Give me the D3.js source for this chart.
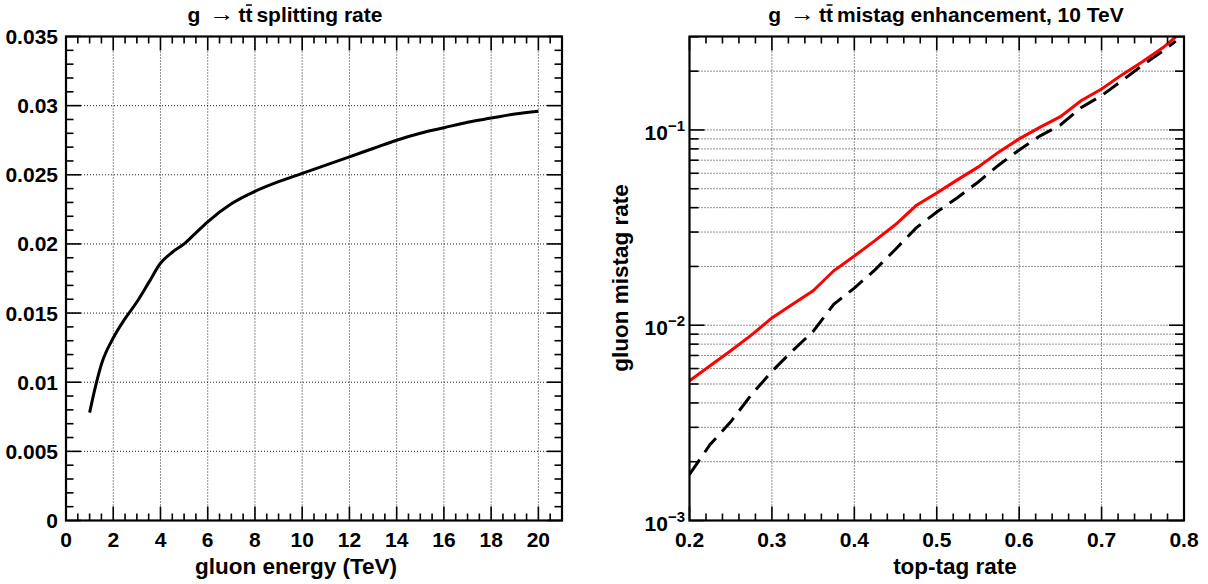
<!DOCTYPE html>
<html><head><meta charset="utf-8">
<script src="https://cdn.jsdelivr.net/npm/d3@7"></script>
<style>
body{margin:0;background:#fff}
svg{display:block}
text{font-family:"Liberation Sans",Arial,Helvetica,sans-serif;font-weight:bold;fill:#000}
</style>
</head><body>
<svg id="c" width="1208" height="584"></svg>
<script>
// ---------------- data ----------------
// left panel: g -> t tbar splitting rate vs gluon energy (TeV)
const gluonEnergy = [1, 1.25, 1.5, 2, 2.5, 3, 3.5, 4, 4.5, 5, 5.5, 6, 7, 8, 9, 10, 11, 12, 13, 14, 15, 16, 17, 18, 19, 20];
const splittingRate = [0.0078, 0.0097, 0.0113, 0.0132, 0.0146, 0.0158, 0.0172, 0.0186, 0.0194, 0.0200, 0.0208, 0.0216, 0.0229, 0.0238, 0.0245, 0.0251, 0.0257, 0.0263, 0.0269, 0.0275, 0.0280, 0.0284, 0.0288, 0.0291, 0.0294, 0.0296];

// right panel: gluon mistag rate vs top-tag rate
const topTagRate = [0.200, 0.225, 0.250, 0.275, 0.300, 0.325, 0.350, 0.375, 0.400, 0.425, 0.450, 0.475, 0.500, 0.525, 0.550, 0.575, 0.600, 0.625, 0.650, 0.675, 0.700, 0.725, 0.750, 0.775, 0.790];
const mistagWithSplitting = [0.0052, 0.0062, 0.0074, 0.0089, 0.0109, 0.0128, 0.0150, 0.0190, 0.0226, 0.0271, 0.0328, 0.0410, 0.0475, 0.0555, 0.0645, 0.0770, 0.0900, 0.1030, 0.1170, 0.1410, 0.1620, 0.1920, 0.2240, 0.2650, 0.3000];
const mistagBaseline = [0.00172, 0.00245, 0.00320, 0.00440, 0.00580, 0.00740, 0.00930, 0.0128, 0.0155, 0.0192, 0.0245, 0.0315, 0.0380, 0.0450, 0.0540, 0.0660, 0.0790, 0.0930, 0.1060, 0.1300, 0.1500, 0.1790, 0.2150, 0.2550, 0.2850];

// tick labels
const leftXTicks = [0, 2, 4, 6, 8, 10, 12, 14, 16, 18, 20];
const leftYTicks = [0, 0.005, 0.01, 0.015, 0.02, 0.025, 0.03, 0.035];
const leftYLabels = ["0", "0.005", "0.01", "0.015", "0.02", "0.025", "0.03", "0.035"];
const rightXTicks = [0.2, 0.3, 0.4, 0.5, 0.6, 0.7, 0.8];
const rightXLabels = ["0.2", "0.3", "0.4", "0.5", "0.6", "0.7", "0.8"];
const rightYDecades = [0.001, 0.01, 0.1];
const rightYExponents = ["\u22123", "\u22122", "\u22121"];

// ---------------- drawing ----------------
const svg = d3.select("#c");
const TICKFS = 21;
const TITLEFS = 22.5;

// panel geometry
const L = {x0: 66, x1: 562, y0: 36.5, y1: 520.5};
const R = {x0: 689.5, x1: 1184, y0: 36.5, y1: 520.5};

const lx = d3.scaleLinear().domain([0, 21]).range([L.x0, L.x1]);
const ly = d3.scaleLinear().domain([0, 0.035]).range([L.y1, L.y0]);
const rx = d3.scaleLinear().domain([0.2, 0.8]).range([R.x0, R.x1]);
const ry = d3.scaleLog().domain([0.001, 0.301]).range([R.y1, R.y0]);

const defs = svg.append("defs");
defs.append("clipPath").attr("id", "clipL").append("rect")
  .attr("x", L.x0).attr("y", L.y0).attr("width", L.x1 - L.x0).attr("height", L.y1 - L.y0);
defs.append("clipPath").attr("id", "clipR").append("rect")
  .attr("x", R.x0).attr("y", R.y0).attr("width", R.x1 - R.x0).attr("height", R.y1 - R.y0);

function gridV(g, xs, sc, P) {
  g.selectAll(null).data(xs).enter().append("line")
    .attr("x1", d => sc(d)).attr("x2", d => sc(d)).attr("y1", P.y0).attr("y2", P.y1)
    .attr("stroke", "#222").attr("stroke-width", 1).attr("stroke-dasharray", "1,2");
}
function gridH(g, ys, sc, P) {
  g.selectAll(null).data(ys).enter().append("line")
    .attr("y1", d => sc(d)).attr("y2", d => sc(d)).attr("x1", P.x0).attr("x2", P.x1)
    .attr("stroke", "#222").attr("stroke-width", 1).attr("stroke-dasharray", "1,2");
}
function ticksX(g, vals, sc, P, len) {
  vals.forEach(v => {
    const x = sc(v);
    g.append("line").attr("x1", x).attr("x2", x).attr("y1", P.y1).attr("y2", P.y1 - len)
      .attr("stroke", "#000").attr("stroke-width", 1.6);
    g.append("line").attr("x1", x).attr("x2", x).attr("y1", P.y0).attr("y2", P.y0 + len)
      .attr("stroke", "#000").attr("stroke-width", 1.6);
  });
}
function ticksY(g, vals, sc, P, len) {
  vals.forEach(v => {
    const y = sc(v);
    g.append("line").attr("y1", y).attr("y2", y).attr("x1", P.x0).attr("x2", P.x0 + len)
      .attr("stroke", "#000").attr("stroke-width", 1.6);
    g.append("line").attr("y1", y).attr("y2", y).attr("x1", P.x1).attr("x2", P.x1 - len)
      .attr("stroke", "#000").attr("stroke-width", 1.6);
  });
}

// ===== Left panel =====
const gL = svg.append("g");
gridV(gL, leftXTicks.filter(d => d > 0), lx, L);
gridH(gL, leftYTicks.filter(d => d > 0 && d < 0.035), ly, L);

const leftPts = gluonEnergy.map((e, i) => [e, splittingRate[i]]);
gL.append("path").datum(leftPts)
  .attr("clip-path", "url(#clipL)")
  .attr("d", d3.line().x(d => lx(d[0])).y(d => ly(d[1])).curve(d3.curveMonotoneX))
  .attr("fill", "none").attr("stroke", "#000").attr("stroke-width", 3);

// ticks
const lxMinor = d3.range(0, 21.01, 0.5).filter(v => Math.abs(v / 2 - Math.round(v / 2)) > 1e-6);
ticksX(gL, leftXTicks, lx, L, 14);
ticksX(gL, lxMinor, lx, L, 7);
const lyMinor = d3.range(0, 0.03501, 0.001).filter(v => Math.abs(v / 0.005 - Math.round(v / 0.005)) > 1e-6);
ticksY(gL, leftYTicks, ly, L, 15);
ticksY(gL, lyMinor, ly, L, 7.5);

gL.append("rect").attr("x", L.x0).attr("y", L.y0).attr("width", L.x1 - L.x0).attr("height", L.y1 - L.y0)
  .attr("fill", "none").attr("stroke", "#000").attr("stroke-width", 2.2);

// labels
gL.selectAll(null).data(leftXTicks).enter().append("text")
  .attr("x", d => lx(d)).attr("y", 547).attr("text-anchor", "middle")
  .attr("font-size", TICKFS).text(d => d);
gL.selectAll(null).data(leftYTicks).enter().append("text")
  .attr("x", 58).attr("y", d => ly(d) + 7.5).attr("text-anchor", "end")
  .attr("font-size", TICKFS).text((d, i) => leftYLabels[i]);
gL.append("text").attr("x", 296).attr("y", 574).attr("text-anchor", "middle")
  .attr("font-size", TITLEFS).text("gluon energy (TeV)");

// ===== Right panel =====
const gR = svg.append("g");
gridV(gR, rightXTicks.filter(d => d > 0.25 && d < 0.75), rx, R);
const ryAll = [];
[0.001, 0.01, 0.1].forEach(dec => { for (let k = 1; k <= 9; k++) ryAll.push(dec * k); });
const ryIn = ryAll.filter(v => v > 0.00101 && v < 0.299);
gridH(gR, ryIn, ry, R);

const redPts = topTagRate.map((t, i) => [t, mistagWithSplitting[i]]);
const blkPts = topTagRate.map((t, i) => [t, mistagBaseline[i]]);
const rline = d3.line().x(d => rx(d[0])).y(d => ry(d[1]));
gR.append("path").datum(blkPts).attr("clip-path", "url(#clipR)")
  .attr("d", rline).attr("fill", "none").attr("stroke", "#000").attr("stroke-width", 3)
  .attr("stroke-dasharray", "18,9");
gR.append("path").datum(redPts).attr("clip-path", "url(#clipR)")
  .attr("d", rline).attr("fill", "none").attr("stroke", "#ff0000").attr("stroke-width", 3);

const rxMinor = d3.range(0.2, 0.8001, 0.02).filter(v => Math.abs(v / 0.1 - Math.round(v / 0.1)) > 1e-6);
ticksX(gR, rightXTicks, rx, R, 14);
ticksX(gR, rxMinor, rx, R, 7);
ticksY(gR, rightYDecades, ry, R, 15);
ticksY(gR, ryAll.filter(v => v <= 0.301 && !rightYDecades.some(d => Math.abs(d - v) < 1e-9)), ry, R, 9);

gR.append("rect").attr("x", R.x0).attr("y", R.y0).attr("width", R.x1 - R.x0).attr("height", R.y1 - R.y0)
  .attr("fill", "none").attr("stroke", "#000").attr("stroke-width", 2.2);

gR.selectAll(null).data(rightXTicks).enter().append("text")
  .attr("x", d => rx(d)).attr("y", 547).attr("text-anchor", "middle")
  .attr("font-size", TICKFS).text((d, i) => rightXLabels[i]);
rightYDecades.forEach((d, i) => {
  const t = gR.append("text").attr("x", 685).attr("y", ry(d) + 10).attr("text-anchor", "end")
    .attr("font-size", TICKFS);
  t.append("tspan").text("10");
  t.append("tspan").attr("font-size", 15).attr("dy", -9).text(rightYExponents[i]);
});
gR.append("text").attr("x", 955).attr("y", 574).attr("text-anchor", "middle")
  .attr("font-size", TITLEFS).text("top-tag rate");
gR.append("text").attr("transform", "translate(628,278) rotate(-90)").attr("text-anchor", "middle")
  .attr("font-size", TITLEFS).text("gluon mistag rate");

// ===== Titles =====
function title(cx, rest) {
  const fs = 21;
  const g = svg.append("g");
  const y = 22;
  const parts = [];
  const tg = g.append("text").attr("y", y).attr("font-size", fs).text("g");
  const ta = g.append("text").attr("y", y - 1).attr("font-size", fs)
    .attr("font-weight", "normal").attr("font-family", "DejaVu Sans").text("\u2192");
  const tt = g.append("text").attr("y", y).attr("font-size", fs).text("tt");
  const tr = g.append("text").attr("y", y).attr("font-size", fs).text(rest);
  const wg = tg.node().getComputedTextLength();
  const wa0 = ta.node().getComputedTextLength();
  const wa = 25;
  const wt = tt.node().getComputedTextLength();
  const wr = tr.node().getComputedTextLength();
  const gap1 = 9, gap2 = 4, gap3 = 4;
  const total = wg + gap1 + wa + gap2 + wt + gap3 + wr;
  let x = cx - total / 2;
  tg.attr("x", x); x += wg + gap1;
  ta.attr("transform", `translate(${x},0) scale(${wa / wa0},1)`).attr("x", 0); x += wa + gap2;
  tt.attr("x", x);
  const n = tt.node();
  const a = n.getStartPositionOfChar(1), b = n.getEndPositionOfChar(1);
  g.append("line").attr("x1", a.x + 0.5).attr("x2", b.x - 0.5).attr("y1", 5).attr("y2", 5)
    .attr("stroke", "#000").attr("stroke-width", 1.5);
  x += wt + gap3;
  tr.attr("x", x);
}
title(285, "splitting rate");
title(946, "mistag enhancement, 10 TeV");
</script>
</body></html>
